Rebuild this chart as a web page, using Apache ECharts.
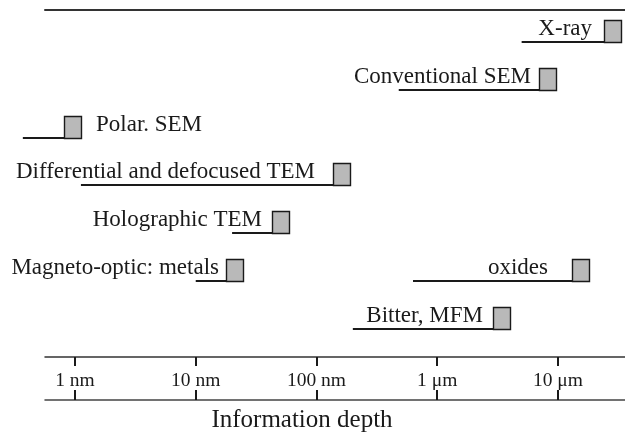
<!DOCTYPE html>
<html>
<head>
<meta charset="utf-8">
<script src="https://cdn.jsdelivr.net/npm/echarts@6/dist/echarts.min.js"></script>
<style>
  html, body { margin: 0; padding: 0; background: #fff; }
  #chart { width: 625px; height: 438px; }
</style>
</head>
<body>
<div id="chart"></div>
<script>
// Techniques and the depth range (in nm) from which each one gathers information.
const techniques = [
  'X-ray',
  'Conventional SEM',
  'Polar. SEM',
  'Differential and defocused TEM',
  'Holographic TEM',
  'Magneto-optic: metals',
  'oxides',
  'Bitter, MFM'
];
const depthFrom = [5000, 480, 0.37, 1.12, 20, 10, 630, 200];
const depthTo   = [24000, 7000, 0.81, 137, 43, 17.8, 13000, 2900];
const rowIndex  = [0, 1, 2, 3, 4, 5, 5, 6];

// Axis ticks (nm) and their labels
const tickValues = [1, 10, 100, 1000, 10000];
const tickLabels = ['1 nm', '10 nm', '100 nm', '1 \u03bcm', '10 \u03bcm'];

// Label placement relative to the box: 'left' puts the text before the box, 'right' after it
const labelSide = ['left', 'left', 'right', 'left', 'left', 'left', 'left', 'left'];
const labelGap  = [12, 8, 15, 18, 10, 7, 24, 10];

const FONT = '"Liberation Serif", "Times New Roman", serif';
const INK = '#1a1a1a';
const BOX_W = 17, BOX_H = 22;

const data = techniques.map((t, i) => [depthFrom[i], depthTo[i], rowIndex[i]]);

const xMin = 0.5645, xMax = 35890;
const logAxis = { type: 'log', logBase: 10, min: xMin, max: xMax,
                  splitLine: { show: false }, minorTick: { show: false } };

const chart = echarts.init(document.getElementById('chart'), null, { renderer: 'canvas' });

chart.setOption({
  animation: false,
  backgroundColor: '#fff',
  grid: [
    // rows of techniques
    { left: 45, right: 0, top: 10, height: 347, containLabel: false, outerBoundsMode: 'none' },
    // scale band with the depth ticks
    { left: 45, right: 0, top: 357, height: 43, containLabel: false, outerBoundsMode: 'none' }
  ],
  xAxis: [
    Object.assign({}, logAxis, {
      gridIndex: 0, position: 'top',
      axisLine: { show: true, onZero: false, lineStyle: { color: '#333', width: 2 } },
      axisTick: { show: false }, axisLabel: { show: false }
    }),
    Object.assign({}, logAxis, {
      gridIndex: 1, position: 'top',
      axisLine: { show: true, onZero: false, lineStyle: { color: '#333', width: 1.5 } },
      axisTick: { show: true, customValues: tickValues, inside: true, length: 9,
                  lineStyle: { color: INK, width: 2 } },
      axisLabel: {
        show: true, inside: true, customValues: tickValues, margin: 14,
        fontFamily: FONT, fontSize: 19.5, color: INK,
        formatter: v => tickLabels[tickValues.findIndex(t => Math.abs(t - v) / t < 1e-6)] || ''
      }
    }),
    Object.assign({}, logAxis, {
      gridIndex: 1, position: 'bottom',
      axisLine: { show: true, onZero: false, lineStyle: { color: '#444', width: 1.5 } },
      axisTick: { show: true, customValues: tickValues, inside: true, length: 10,
                  lineStyle: { color: INK, width: 2 } },
      axisLabel: { show: false },
      name: 'Information depth', nameLocation: 'middle', nameGap: 8,
      nameTextStyle: { fontFamily: FONT, fontSize: 25, color: INK, padding: [0, 66, 0, 0] }
    })
  ],
  yAxis: [
    { gridIndex: 0, type: 'value', inverse: true, min: -0.67, max: 6.59, show: false },
    { gridIndex: 1, type: 'value', min: 0, max: 1, show: false }
  ],
  series: [{
    type: 'custom',
    xAxisIndex: 0,
    yAxisIndex: 0,
    clip: false,
    encode: { x: [0, 1], y: 2 },
    data: data,
    renderItem: function (params, api) {
      const i = params.dataIndex;
      const p0 = api.coord([api.value(0), api.value(2)]);
      const p1 = api.coord([api.value(1), api.value(2)]);
      const y = Math.round(p1[1]);
      const bx = Math.round(p1[0]);
      const side = labelSide[i];
      const tx = side === 'left' ? bx - labelGap[i] : bx + BOX_W + labelGap[i];
      return {
        type: 'group',
        children: [
          { type: 'line', shape: { x1: p0[0], y1: y, x2: bx, y2: y },
            style: { stroke: INK, lineWidth: 2 } },
          { type: 'rect', shape: { x: bx + 0.5, y: y - BOX_H + 0.5, width: BOX_W, height: BOX_H },
            style: { fill: '#b9b9b9', stroke: INK, lineWidth: 1.4 } },
          { type: 'text', x: tx, y: y - 13,
            style: { text: techniques[i], textAlign: side === 'left' ? 'right' : 'left',
                     textVerticalAlign: 'middle', fontFamily: FONT, fontSize: 23, fill: INK } }
        ]
      };
    }
  }]
});
</script>
</body>
</html>
